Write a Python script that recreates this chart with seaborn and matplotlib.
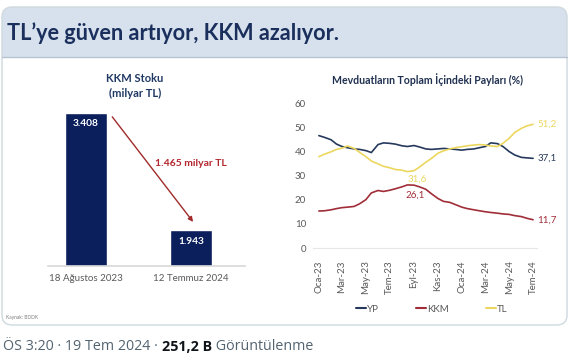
import matplotlib
matplotlib.use("Agg")
import matplotlib.pyplot as plt
from matplotlib.patches import FancyBboxPatch, Rectangle
from matplotlib.lines import Line2D
import seaborn as sns
import pandas as pd
import numpy as np

sns.set_theme(style="white")
plt.rcParams["font.family"] = ["Lato", "DejaVu Sans"]

# --- data -------------------------------------------------------------
title = "TL’ye güven artıyor, KKM azalıyor."

# KKM stock (billion TL)
stock_dates = ["18 Ağustos 2023", "12 Temmuz 2024"]
stock_values = [3408, 1943]
stock_labels = ["3.408", "1.943"]
drop_label = "1.465 milyar TL"

# share of deposits in total (%), semi-monthly readings
share_dates = pd.date_range("2023-01-01", "2024-07-01", freq="SMS")
yp = [46.5, 45.8, 44.8, 43.0, 42.0, 41.5, 41.0, 40.8, 40.3, 39.5,
      42.8, 43.5, 43.3, 43.0, 42.3, 42.0, 42.4, 41.8, 41.0, 40.8,
      41.0, 41.2, 41.0, 40.8, 40.5, 40.8, 41.0, 41.5, 42.0, 43.5,
      43.2, 42.0, 39.9, 38.5, 37.5, 37.3, 37.1]
kkm = [15.3, 15.4, 15.8, 16.3, 16.7, 16.9, 17.2, 18.3, 20.0, 22.8,
       23.8, 23.4, 23.9, 24.5, 25.3, 26.1, 26.0, 25.3, 24.3, 22.5,
       20.5, 19.3, 18.9, 18.0, 16.9, 16.3, 15.8, 15.4, 15.0, 14.7,
       14.4, 14.1, 13.9, 13.4, 13.0, 12.3, 11.7]
tl = [37.8, 38.8, 39.8, 40.8, 41.3, 42.2, 41.2, 39.6, 37.8, 36.0,
      34.8, 33.8, 33.2, 32.5, 32.2, 31.6, 32.0, 33.5, 35.5, 37.0,
      39.2, 40.2, 41.0, 41.5, 41.9, 42.3, 42.6, 42.8, 42.6, 42.2,
      42.0, 43.3, 45.4, 47.8, 49.5, 50.5, 51.2]
tick_dates = ["2023-01-01", "2023-03-01", "2023-05-01", "2023-07-01", "2023-09-01",
              "2023-11-01", "2024-01-01", "2024-03-01", "2024-05-01", "2024-07-01"]
tick_labels = ["Oca-23", "Mar-23", "May-23", "Tem-23", "Eyl-23",
               "Kas-23", "Oca-24", "Mar-24", "May-24", "Tem-24"]
colors = {"YP": "#26395c", "KKM": "#a02d38", "TL": "#ecd75e"}

NAVY = "#0b1f5c"
GREY = "#595959"
W, H = 575, 364


def box(l, t, r, b):
    return [l / W, 1 - b / H, (r - l) / W, (b - t) / H]


fig = plt.figure(figsize=(W / 100, H / 100), dpi=100)

# background card, pixel coordinates
bg = fig.add_axes([0, 0, 1, 1], zorder=0)
bg.set_xlim(0, W)
bg.set_ylim(H, 0)
bg.axis("off")
bg.add_patch(FancyBboxPatch((2, 7), 565, 318, boxstyle="round,pad=0,rounding_size=10",
                            fc="white", ec="none"))
bg.add_patch(FancyBboxPatch((2, 7), 565, 50, boxstyle="round,pad=0,rounding_size=10",
                            fc="#d7e1ed", ec="none"))
bg.add_patch(Rectangle((2, 35), 565, 22, fc="#d7e1ed", ec="none"))
bg.plot([2, 567], [57, 57], color="#b7c3d0", lw=1)
bg.add_patch(FancyBboxPatch((2, 7), 565, 318, boxstyle="round,pad=0,rounding_size=10",
                            fc="none", ec="#cfd9de", lw=1))
bg.text(7, 33, title, fontsize=15.6, weight="bold", color="#1a2f5c", va="center")
bg.text(135, 78, "KKM Stoku", fontsize=8, weight="bold", color="#1f3864", ha="center", va="center")
bg.text(135, 93, "(milyar TL)", fontsize=8, weight="bold", color="#1f3864", ha="center", va="center")
bg.text(427, 80, "Mevduatların Toplam İçindeki Payları (%)", fontsize=7.6, weight="bold",
        color="#1f3050", ha="center", va="center")
bg.text(6, 318, "Kaynak: BDDK", fontsize=3.5, color="#7f7f7f", va="center")

# --- left: KKM stock bars ----------------------------------------------
ax1 = fig.add_axes(box(48, 100, 245, 266))
stock_df = pd.DataFrame({"Tarih": stock_dates, "Stok": stock_values})
sns.barplot(data=stock_df, x="Tarih", y="Stok", color=NAVY, saturation=1, width=0.4, ax=ax1)
ax1.set_xlim(-0.362, 1.514)
ax1.set_ylim(1500, 3570)
ax1.set_yticks([])
ax1.set_xlabel("")
ax1.set_ylabel("")
ax1.tick_params(axis="x", length=0, pad=6, labelsize=7, labelcolor=GREY)
for s in ["top", "left", "right"]:
    ax1.spines[s].set_visible(False)
ax1.spines["bottom"].set_color("#d9d9d9")
ax1.patch.set_alpha(0)
ax1.bar_label(ax1.containers[0], labels=stock_labels, padding=-11, color="white",
              fontsize=7.3, weight="bold")
ax1.annotate("", xy=(1.02, 2050), xytext=(0.25, 3360), annotation_clip=False,
             arrowprops=dict(arrowstyle="-|>", color="#a02b2b", lw=1, mutation_scale=7,
                             shrinkA=0, shrinkB=0))
ax1.text(1.0, 2784, drop_label, ha="center", va="center", color="#b3262e",
         fontsize=7.5, weight="bold")

# --- right: deposit shares ---------------------------------------------
ax2 = fig.add_axes(box(313, 103, 537, 248))
share = pd.DataFrame({"Tarih": share_dates, "YP": yp, "KKM": kkm, "TL": tl})
long = share.melt(id_vars="Tarih", var_name="Seri", value_name="Pay")
sns.lineplot(data=long, x="Tarih", y="Pay", hue="Seri", palette=colors, lw=1.2,
             legend=False, ax=ax2)
ax2.set_ylim(0, 60)
ax2.set_yticks(range(0, 70, 10))
ax2.set_xlim(pd.Timestamp("2022-12-17"), pd.Timestamp("2024-07-11"))
ax2.set_xticks(pd.to_datetime(tick_dates))
ax2.set_xticklabels(tick_labels, rotation=90)
ax2.set_xlabel("")
ax2.set_ylabel("")
ax2.tick_params(axis="both", length=0, labelsize=7, labelcolor=GREY)
ax2.tick_params(axis="x", pad=9)
ax2.tick_params(axis="y", pad=5)
for s in ["top", "left", "right"]:
    ax2.spines[s].set_visible(False)
ax2.spines["bottom"].set_color("#e6e6e6")
ax2.spines["bottom"].set_linewidth(0.8)
ax2.patch.set_alpha(0)


def fmt(v):
    return f"{v:.1f}".replace(".", ",")


for name, vals in [("TL", tl), ("YP", yp), ("KKM", kkm)]:
    ax2.annotate(fmt(vals[-1]), xy=(share_dates[-1], vals[-1]), xytext=(3, 0),
                 textcoords="offset points", ha="left", va="center", fontsize=7,
                 color=colors[name], annotation_clip=False)
i_tl = int(np.argmin(tl))
ax2.annotate(fmt(tl[i_tl]), xy=(share_dates[i_tl], tl[i_tl]), xytext=(0, -2),
             textcoords="offset points", ha="left", va="top", fontsize=7, color=colors["TL"])
i_kkm = int(np.argmax(kkm))
ax2.annotate(fmt(kkm[i_kkm]), xy=(share_dates[i_kkm], kkm[i_kkm]), xytext=(-1.5, -4.3),
             textcoords="offset points", ha="left", va="top", fontsize=7, color=colors["KKM"])

handles = [Line2D([], [], color=colors[k], lw=1.5) for k in colors]
fig.legend(handles, list(colors), loc="center", bbox_to_anchor=(432 / W, 1 - 309 / H),
           ncol=3, frameon=False, fontsize=7, handlelength=1.05, handletextpad=0.1,
           columnspacing=3.8, labelcolor=GREY)

# --- tweet footer -------------------------------------------------------
parts = [("ÖS 3:20 · 19 Tem 2024 · ", "#536471", "normal"),
         ("251,2 B", "#0f1419", "bold"),
         (" Görüntülenme", "#536471", "normal")]
renderer = fig.canvas.get_renderer()
x = 3
for txt, col, wt in parts:
    t = bg.text(x, 347, txt, fontsize=10.3, color=col, weight=wt, va="center",
                family=["Open Sans", "DejaVu Sans"])
    x = t.get_window_extent(renderer).x1

fig.savefig("out.png", dpi=100)
